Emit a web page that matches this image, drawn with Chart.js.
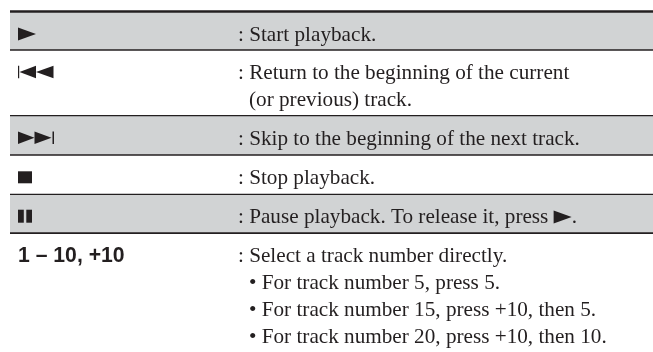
<!DOCTYPE html>
<html>
<head>
<meta charset="utf-8">
<script src="https://cdn.jsdelivr.net/npm/chart.js@4"></script>
<style>
  html, body { margin: 0; padding: 0; background: #fff; overflow: hidden; }
  canvas { display: block; }
</style>
</head>
<body>
<canvas id="table-chart" width="653" height="352"></canvas>
<script>
// bands of the table, top to bottom (heights)
var bandKinds = ["blank", "rule", "grey", "rule", "white", "rule", "grey", "rule", "white", "rule", "grey", "rule", "white"];
var bandHeights = [10, 2.5, 36.5, 1.3, 64.4, 1.3, 38, 1.3, 38, 1.4, 37.3, 1.7, 118.3];

// first column: icon name, or text for the last row
var rowKeys = ["play", "prev", "next", "stop", "pause", "1 \u2013 10, +10"];

// second column, one list of lines per row. "@play" is the inline icon
var rowLines = [
    [": Start playback."],
    [": Return to the beginning of the current", "(or previous) track."],
    [": Skip to the beginning of the next track."],
    [": Stop playback."],
    [": Pause playback. To release it, press @play."],
    [": Select a track number directly.",
     "\u2022 For track number 5, press 5.",
     "\u2022 For track number 15, press +10, then 5.",
     "\u2022 For track number 20, press +10, then 10."]
];

var ink = "#231f20";
var colors = { blank: "#ffffff", white: "#ffffff", grey: "#d1d3d4", rule: ink };

var leftEdge = 10, keyX = 18, colonX = 238, indentX = 249;
var iconBaseline = 28, textBaseline = 28.7, lineGap = 27;

// icon shapes, polygons relative to x and the text baseline
var icons = {
    play: { w: 18, polys: [[[0, -13], [18, -6.5], [0, 0]]] },
    prev: { w: 35.5, polys: [[[0, -12.5], [1.2, -12.5], [1.2, 0], [0, 0]],
                             [[1.5, -6.2], [18, -12.5], [18, 0]],
                             [[18, -6.2], [35.5, -12.5], [35.5, 0]]] },
    next: { w: 36, polys: [[[0, -12.5], [16.5, -6.2], [0, 0]],
                           [[16.5, -12.5], [33.5, -6.2], [16.5, 0]],
                           [[34.5, -12.5], [36, -12.5], [36, 0], [34.5, 0]]] },
    stop: { w: 14, polys: [[[0, -12], [14, -12], [14, 0], [0, 0]]] },
    pause: { w: 14, polys: [[[0, -13], [5.8, -13], [5.8, 0], [0, 0]],
                            [[8.3, -13], [14, -13], [14, 0], [8.3, 0]]] }
};

function drawIcon(ctx, name, x, y) {
    ctx.fillStyle = ink;
    icons[name].polys.forEach(function (poly) {
        ctx.beginPath();
        poly.forEach(function (p, i) {
            if (i == 0) ctx.moveTo(x + p[0], y + p[1]);
            else ctx.lineTo(x + p[0], y + p[1]);
        });
        ctx.closePath();
        ctx.fill();
    });
}

// writes the two text columns on top of the bands
var tableText = {
    id: "tableText",
    afterDatasetsDraw: function (chart) {
        var ctx = chart.ctx;
        var y = chart.scales.y;
        var serif = "21.2px 'Liberation Serif'";
        var top = 0, row = 0;

        ctx.save();
        ctx.textBaseline = "alphabetic";
        ctx.textAlign = "left";
        bandKinds.forEach(function (kind, b) {
            top += bandHeights[b];
            if (kind != "rule") return;
            // the band right after this rule is a table row
            var base = y.getPixelForValue(top + textBaseline);
            var key = rowKeys[row];
            if (icons[key]) {
                drawIcon(ctx, key, keyX, y.getPixelForValue(top + iconBaseline));
            } else {
                ctx.fillStyle = ink;
                ctx.font = "bold 21.2px 'Liberation Sans'";
                ctx.fillText(key, keyX, base);
            }
            ctx.font = serif;
            rowLines[row].forEach(function (line, i) {
                var x = i == 0 ? colonX : indentX;
                var ly = base + i * lineGap;
                var parts = line.split("@play");
                ctx.fillStyle = ink;
                ctx.fillText(parts[0], x, ly);
                if (parts.length > 1) {
                    var w = ctx.measureText(parts[0]).width;
                    drawIcon(ctx, "play", x + w, ly);
                    ctx.fillStyle = ink;
                    ctx.fillText(parts[1], x + w + icons.play.w, ly);
                }
            });
            row++;
        });
        ctx.restore();
    }
};

new Chart(document.getElementById("table-chart"), {
    type: "bar",
    data: {
        labels: ["table"],
        datasets: bandHeights.map(function (h, i) {
            return {
                label: bandKinds[i],
                data: [h],
                backgroundColor: colors[bandKinds[i]],
                borderWidth: 0,
                stack: "bands",
                barPercentage: 1,
                categoryPercentage: 1
            };
        })
    },
    options: {
        responsive: false,
        animation: false,
        layout: { padding: { left: leftEdge } },
        plugins: { legend: { display: false }, tooltip: { enabled: false }, title: { display: false } },
        scales: {
            x: { display: false, stacked: true },
            y: { display: false, stacked: true, reverse: true, min: 0, max: 352 }
        }
    },
    plugins: [tableText]
});
</script>
</body>
</html>
